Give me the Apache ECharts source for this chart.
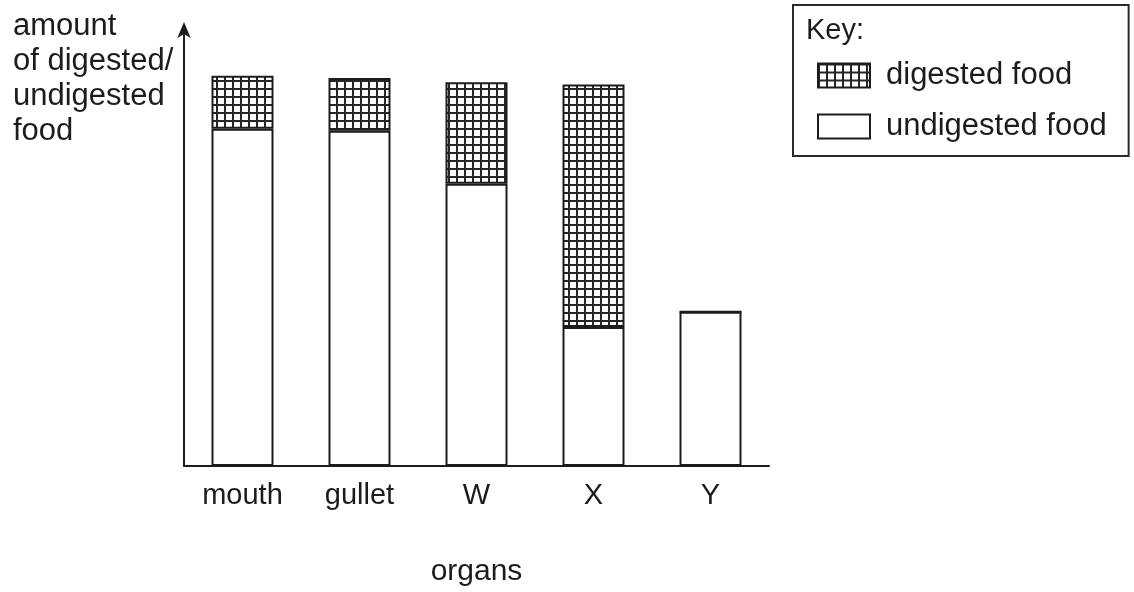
<!DOCTYPE html>
<html>
<head>
<meta charset="utf-8">
<title>Digested and undigested food along the gut</title>
<script src="https://cdn.jsdelivr.net/npm/echarts@6/dist/echarts.min.js"></script>
<style>
  html, body { margin: 0; padding: 0; background: #ffffff; }
  #chart { width: 1134px; height: 592px; }
</style>
</head>
<body>
<div id="chart"></div>
<script>
// Organs along the gut and the amount of food in each (arbitrary units)
const organs = ['mouth', 'gullet', 'W', 'X', 'Y'];
const undigestedFood = [76.5, 76, 64, 31.5, 35];
const digestedFood = [12, 12, 23, 55, 0];

const yAxisTitle = 'amount\nof digested/\nundigested\nfood';
const xAxisTitle = 'organs';
const keyTitle = 'Key:';
const seriesNames = ['digested food', 'undigested food'];

const ink = '#1c1c1c';
const font = '"Liberation Sans", Arial, sans-serif';

// Square cross-hatch fill used for the digested part of each bar
function makeHatch() {
  const size = 8;
  const c = document.createElement('canvas');
  c.width = size;
  c.height = size;
  const ctx = c.getContext('2d');
  ctx.fillStyle = '#ffffff';
  ctx.fillRect(0, 0, size, size);
  ctx.fillStyle = '#262626';
  ctx.fillRect(0, 0, size, 2);
  ctx.fillRect(0, 0, 2, size);
  return c;
}
const hatch = { image: makeHatch(), repeat: 'repeat' };

const chart = echarts.init(document.getElementById('chart'), null, { renderer: 'canvas' });

chart.setOption({
  backgroundColor: '#ffffff',
  animation: false,
  title: [
    {
      text: yAxisTitle,
      left: 13,
      top: 9,
      padding: 0,
      textStyle: { fontFamily: font, fontSize: 31, fontWeight: 'normal', color: ink, lineHeight: 35 }
    },
    {
      text: keyTitle,
      left: 806,
      top: 16,
      padding: 0,
      textStyle: { fontFamily: font, fontSize: 29, fontWeight: 'normal', color: ink }
    }
  ],
  legend: {
    data: seriesNames,
    orient: 'vertical',
    icon: 'rect',
    left: 793,
    top: 5,
    padding: [55, 22, 14, 24],
    itemGap: 20,
    itemWidth: 52,
    itemHeight: 24,
    borderColor: '#2a2a2a',
    borderWidth: 2,
    selectedMode: false,
    textStyle: { fontFamily: font, fontSize: 31, color: ink, lineHeight: 31, padding: [0, 0, 0, 11] }
  },
  grid: { left: 184, width: 585, top: 25, bottom: 126, containLabel: false },
  xAxis: {
    type: 'category',
    data: organs,
    name: xAxisTitle,
    nameLocation: 'middle',
    nameGap: 91,
    nameTextStyle: { fontFamily: font, fontSize: 30, color: ink },
    axisLine: { show: true, lineStyle: { color: ink, width: 2 } },
    axisTick: { show: false },
    axisLabel: { fontFamily: font, fontSize: 29, color: ink, margin: 15 },
    splitLine: { show: false }
  },
  yAxis: {
    type: 'value',
    min: 0,
    max: 100,
    axisLine: {
      show: true,
      symbol: ['none', 'arrow'],
      symbolSize: [10, 16],
      symbolOffset: [0, 3],
      lineStyle: { color: ink, width: 2 }
    },
    axisTick: { show: false },
    axisLabel: { show: false },
    splitLine: { show: false }
  },
  series: [
    {
      name: seriesNames[1],
      type: 'bar',
      stack: 'food',
      data: undigestedFood,
      barWidth: 62,
      itemStyle: { color: '#ffffff', borderColor: ink, borderWidth: 2 }
    },
    {
      name: seriesNames[0],
      type: 'bar',
      stack: 'food',
      data: digestedFood,
      barWidth: 62,
      itemStyle: { color: hatch, borderColor: ink, borderWidth: 2 }
    }
  ]
});
</script>
</body>
</html>
